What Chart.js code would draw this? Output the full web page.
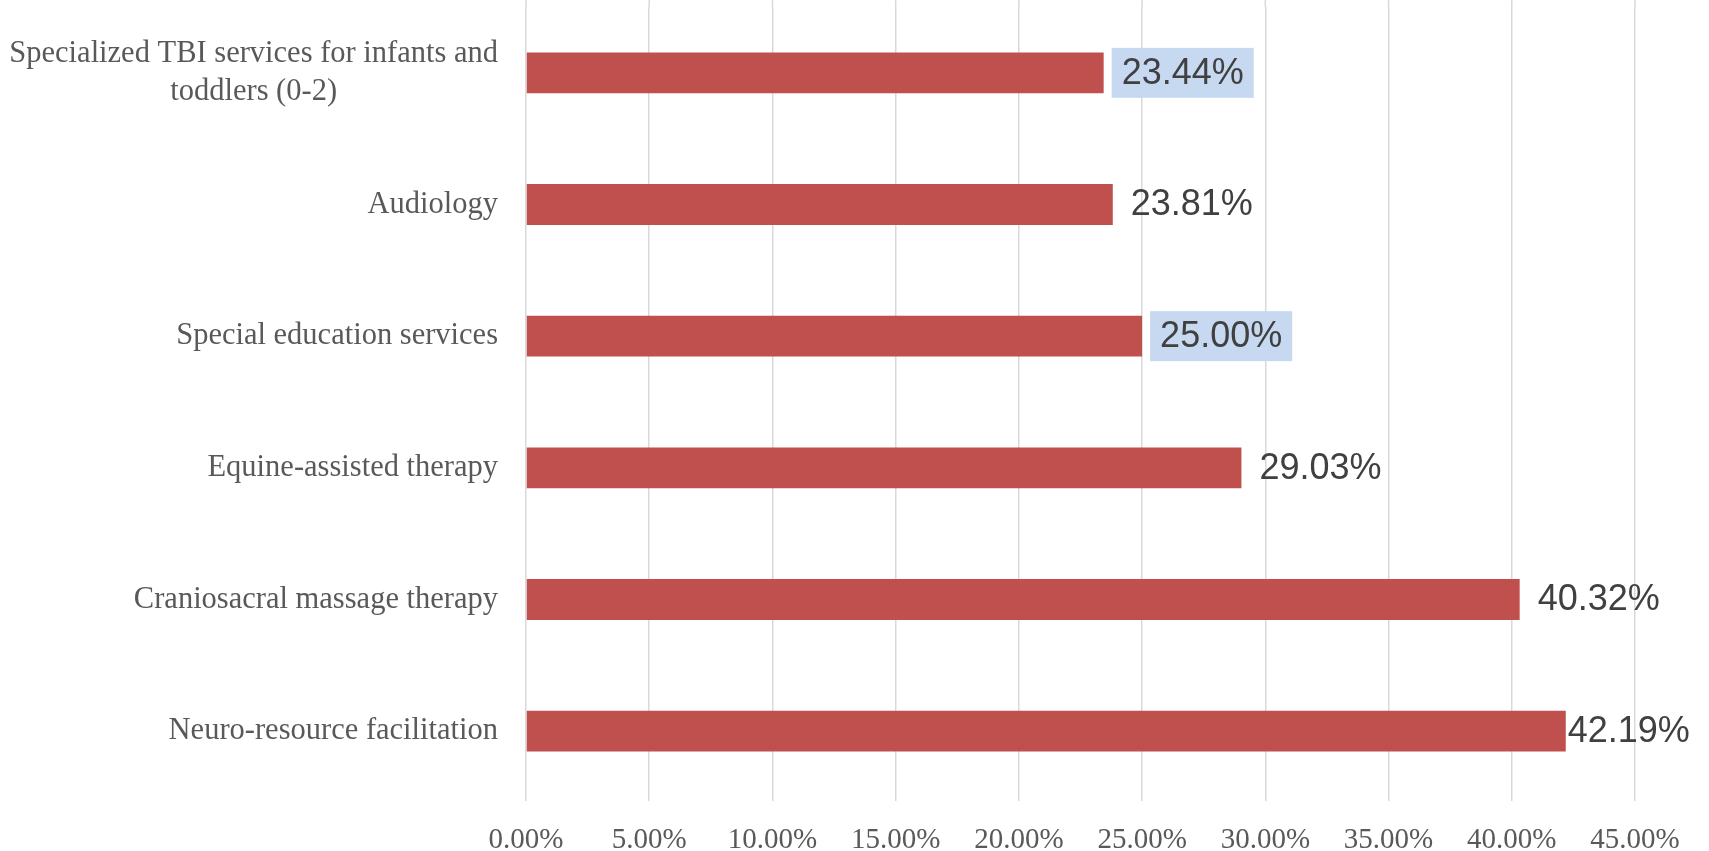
<!DOCTYPE html>
<html>
<head>
<meta charset="utf-8">
<script src="https://cdn.jsdelivr.net/npm/chart.js@4.4.1/dist/chart.umd.min.js"></script>
<style>
  html, body { margin: 0; padding: 0; background: #fff; }
  #wrap { width: 1709px; height: 851px; }
</style>
</head>
<body>
<div id="wrap"><canvas id="myChart"></canvas></div>
<script>
const categories = [
  ["Specialized TBI services for infants and", "toddlers (0-2)"],
  "Audiology",
  "Special education services",
  "Equine-assisted therapy",
  "Craniosacral massage therapy",
  "Neuro-resource facilitation",
];
const values = [23.44, 23.81, 25.0, 29.03, 40.32, 42.19];
const highlighted = [true, false, true, false, false, false];
const xTicks = [0, 5, 10, 15, 20, 25, 30, 35, 40, 45];

const serif = '"Liberation Serif", "Times New Roman", serif';
const sans = '"Liberation Sans", Arial, sans-serif';

// gridlines run up to the top edge of the picture
const gridToTop = {
  id: "gridToTop",
  beforeDatasetsDraw(chart) {
    const { ctx, chartArea } = chart;
    const x = chart.scales.x;
    ctx.save();
    ctx.strokeStyle = "#D9D9D9";
    ctx.lineWidth = 1.5;
    xTicks.forEach((v) => {
      const px = x.getPixelForValue(v);
      ctx.beginPath();
      ctx.moveTo(px, 0);
      ctx.lineTo(px, chartArea.top);
      ctx.stroke();
    });
    ctx.restore();
  },
};

// category labels: right aligned block, wrapped lines centred inside it
const categoryLabels = {
  id: "categoryLabels",
  afterDraw(chart) {
    const { ctx } = chart;
    const y = chart.scales.y;
    const right = chart.chartArea.left - 28;
    ctx.save();
    ctx.font = "30.5px " + serif;
    ctx.fillStyle = "#595959";
    ctx.textBaseline = "middle";
    ctx.textAlign = "center";
    categories.forEach((label, i) => {
      const lines = Array.isArray(label) ? label : [label];
      const w = Math.max(...lines.map((l) => ctx.measureText(l).width));
      const cy = y.getPixelForValue(i);
      const lh = 38.5;
      const top = cy - ((lines.length - 1) * lh) / 2;
      lines.forEach((l, j) => ctx.fillText(l, right - w / 2, top + j * lh));
    });
    ctx.restore();
  },
};

// value labels at the bar ends
const valueLabels = {
  id: "valueLabels",
  afterDatasetsDraw(chart) {
    const { ctx } = chart;
    const bars = chart.getDatasetMeta(0).data;
    ctx.save();
    ctx.font = "36px " + sans;
    ctx.textBaseline = "middle";
    bars.forEach((bar, i) => {
      const txt = values[i].toFixed(2) + "%";
      const w = ctx.measureText(txt).width;
      let x = bar.x + 18;
      if (x + w > chart.width - 22) x = Math.max(bar.x + 2, chart.width - 22 - w);
      if (highlighted[i]) {
        ctx.fillStyle = "#C6D9F1";
        ctx.fillRect(x - 10, bar.y - 25, w + 20, 50);
      }
      ctx.fillStyle = "#404040";
      ctx.fillText(txt, x, bar.y + 1);
    });
    ctx.restore();
  },
};

new Chart(document.getElementById("myChart"), {
  type: "bar",
  data: {
    labels: categories,
    datasets: [
      {
        data: values,
        backgroundColor: "#C0504D",
        borderWidth: 0,
        barPercentage: 0.31,
        categoryPercentage: 1,
      },
    ],
  },
  options: {
    indexAxis: "y",
    responsive: true,
    maintainAspectRatio: false,
    animation: false,
    layout: { padding: { top: 7, right: 74, left: 0, bottom: 0 } },
    plugins: {
      legend: { display: false },
      tooltip: { enabled: false },
    },
    scales: {
      x: {
        min: 0,
        max: 45,
        afterBuildTicks: (scale) => {
          scale.ticks = xTicks.map((v) => ({ value: v }));
        },
        afterFit: (scale) => {
          scale.height = 54;
        },
        grid: {
          color: "#D9D9D9",
          lineWidth: 1.5,
          drawTicks: true,
          tickLength: 4,
        },
        border: { display: false },
        ticks: {
          padding: 22,
          color: "#595959",
          font: { family: serif, size: 29 },
          callback: (v) => Number(v).toFixed(2) + "%",
        },
      },
      y: {
        afterFit: (scale) => {
          scale.width = 526;
        },
        grid: { display: false },
        border: { display: false },
        ticks: { display: false },
      },
    },
  },
  plugins: [gridToTop, categoryLabels, valueLabels],
});
</script>
</body>
</html>
